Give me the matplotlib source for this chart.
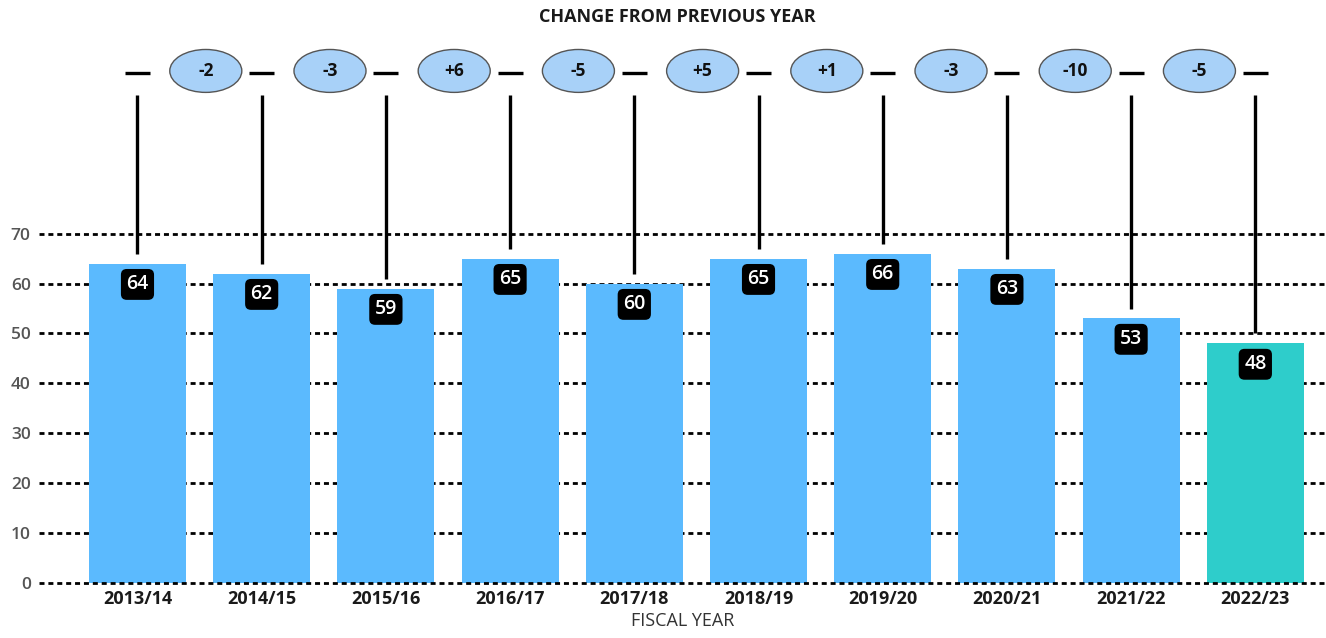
import numpy as np
import matplotlib.pyplot as plt
from matplotlib.patches import Ellipse

years = ["2013/14", "2014/15", "2015/16", "2016/17", "2017/18",
         "2018/19", "2019/20", "2020/21", "2021/22", "2022/23"]
values = [64, 62, 59, 65, 60, 65, 66, 63, 53, 48]
changes = ["-2", "-3", "+6", "-5", "+5", "+1", "-3", "-10", "-5"]
bar_colors = ["#5BBAFE"] * 9 + ["#2ECDCB"]
y_ticks = [0, 10, 20, 30, 40, 50, 60, 70]

plt.rcParams['font.family'] = ['Open Sans', 'DejaVu Sans']

fig = plt.figure(figsize=(13.26, 6.38), dpi=100)
ax = fig.add_axes([0.0294, 0.0862, 0.9706, 0.8605])

x = np.arange(len(years))
ax.bar(x, values, width=0.78, color=bar_colors, zorder=2)

# dotted grid (the zero line sits on top of the bars)
for t in y_ticks:
    ax.axhline(t, color="black", lw=2, ls=(0, (1.8, 1.4)),
               zorder=1 if t else 3, clip_on=False)

# value labels
for xi, v in zip(x, values):
    ax.annotate(str(v), (xi, v), xytext=(0, -15), textcoords="offset points",
                ha="center", va="center", color="white", fontsize=14,
                fontweight="semibold", zorder=5,
                bbox=dict(boxstyle="round,pad=0.28,rounding_size=0.3",
                          fc="black", ec="none"))

# connectors up to the change row
for xi, v in zip(x, values):
    ax.plot([xi, xi], [v + 2, 97.8], color="black", lw=2.4,
            solid_capstyle="butt", zorder=4)
    ax.plot([xi - 0.1, xi + 0.1], [102.2, 102.2], color="black", lw=2.4,
            solid_capstyle="butt", zorder=4)

# change bubbles
for i, c in enumerate(changes):
    cx = i + 0.55
    ax.add_patch(Ellipse((cx, 102.6), 0.58, 8.6, fc="#A8D1F8",
                         ec="#555555", lw=1, zorder=4))
    ax.text(cx, 102.6, c, ha="center", va="center", fontsize=12.5,
            fontweight="bold", color="#111111", zorder=5)

ax.set_xlim(-0.793, 9.569)
ax.set_ylim(0, 110)
ax.set_xticks(x)
ax.set_xticklabels(years, fontsize=13, fontweight="bold", color="#1a1a1a")
ax.set_yticks(y_ticks)
ax.set_yticklabels([str(t) for t in y_ticks], fontsize=12.5,
                   fontweight="semibold", color="#555555")
ax.tick_params(axis="both", length=0)
ax.tick_params(axis="x", pad=5)
ax.tick_params(axis="y", pad=6)
for s in ax.spines.values():
    s.set_visible(False)

ax.set_xlabel("FISCAL YEAR", fontsize=13, color="#333333", labelpad=3)

fig.text(677 / 1326, 1 - 17 / 638, "CHANGE FROM PREVIOUS YEAR",
         ha="center", va="center", fontsize=13, fontweight="bold",
         color="#1a1a1a")

fig.savefig("out.png", dpi=100)
